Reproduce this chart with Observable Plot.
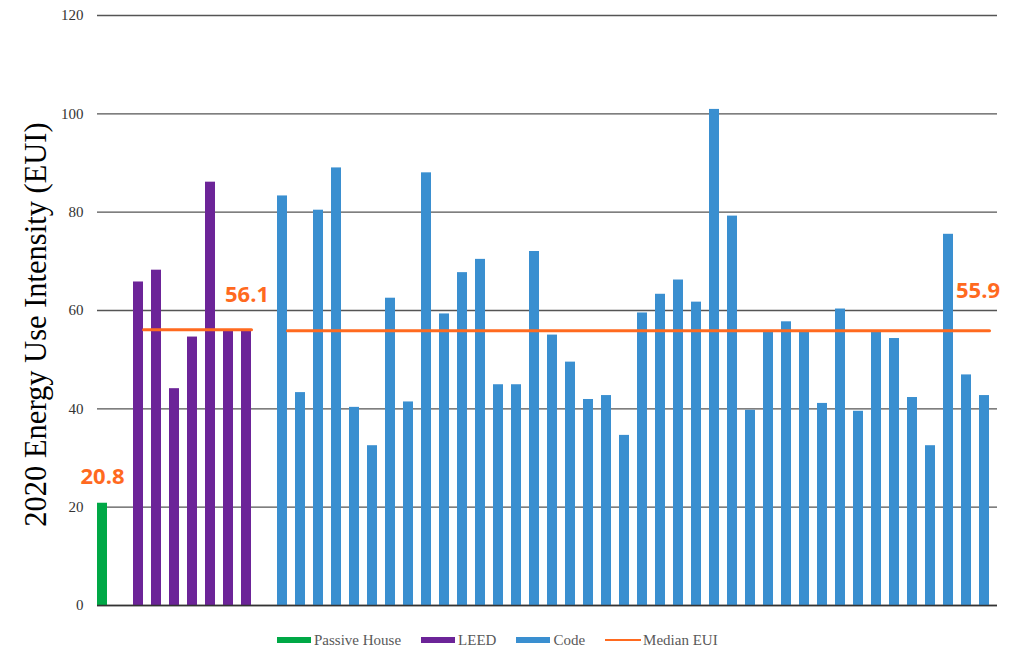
<!DOCTYPE html>
<html>
<head>
<meta charset="utf-8">
<script src="https://cdn.jsdelivr.net/npm/d3@7"></script>
<script src="https://cdn.jsdelivr.net/npm/@observablehq/plot@0.6"></script>
<style>
  body { margin: 0; background: #fff; }
  #wrap { width: 1012px; height: 660px; position: relative; overflow: hidden; }
  #legend { display: flex; align-items: center; margin-left: 277px; height: 30px; margin-top: 0px;
            font-family: "Liberation Serif", "Times New Roman", serif; font-size: 15px; color: #595959; }
  .item { display: flex; align-items: center; margin-right: 20px; }
  .sw { width: 34px; height: 6px; margin-right: 3px; }
  .ln { width: 36px; height: 2px; margin-right: 2px; }
</style>
</head>
<body>
<div id="wrap"></div>
<script>
// ---- data ----
const types = ["Passive House", "LEED", "Code"];
const colors = ["#00A846", "#6C2498", "#3A8FD0"];
const medianColor = "#FF6A1F";

const passiveValues = [20.8];
const leedValues = [65.8, 68.2, 44.1, 54.6, 86.1, 55.8, 56.1];
const codeValues = [
  83.3, 43.3, 80.4, 89.0, 40.3, 32.5, 62.5, 41.4, 88.0, 59.3,
  67.7, 70.4, 44.9, 44.9, 72.0, 55.0, 49.5, 41.9, 42.7, 34.6,
  59.5, 63.3, 66.2, 61.7, 100.9, 79.2, 39.7, 55.9, 57.7, 55.9,
  41.1, 60.3, 39.5, 55.9, 54.3, 42.3, 32.5, 75.5, 46.9, 42.7
];
const passiveLabel = 20.8;
const leedMedian = 56.1;
const codeMedian = 55.9;
const yTicks = [0, 20, 40, 60, 80, 100, 120];
const yTitle = "2020 Energy Use Intensity (EUI)";

// ---- build table ----
const passiveSlots = passiveValues.map((v, i) => "P" + (i + 1));
const leedSlots = leedValues.map((v, i) => "L" + (i + 1));
const codeSlots = codeValues.map((v, i) => "C" + (i + 1));
const slots = [...passiveSlots, "gap1", ...leedSlots, "gap2", ...codeSlots];

const rows = [
  ...passiveValues.map((v, i) => ({slot: passiveSlots[i], value: v, type: types[0]})),
  ...leedValues.map((v, i) => ({slot: leedSlots[i], value: v, type: types[1]})),
  ...codeValues.map((v, i) => ({slot: codeSlots[i], value: v, type: types[2]}))
];
const medianRows = [
  ...leedSlots.map(s => ({slot: s, y: leedMedian, g: "LEED"})),
  ...codeSlots.map(s => ({slot: s, y: codeMedian, g: "Code"}))
];
const labels = [
  {slot: passiveSlots[0], y: passiveLabel, text: passiveLabel.toFixed(1), dx: 0, dy: -26},
  {slot: leedSlots[leedSlots.length - 1], y: leedMedian, text: leedMedian.toFixed(1), dx: 0.5, dy: -35},
  {slot: codeSlots[codeSlots.length - 1], y: codeMedian, text: codeMedian.toFixed(1), dx: -6.5, dy: -40}
];

const serif = "'Liberation Serif', 'Times New Roman', serif";

const chart = Plot.plot({
  width: 1012,
  height: 625,
  marginLeft: 97,
  marginRight: 15,
  marginTop: 15,
  marginBottom: 20,
  x: {type: "band", domain: slots, range: [93, 993], paddingInner: 0.42, paddingOuter: 0.21, axis: null},
  y: {domain: [0, 120], axis: null},
  color: {domain: types, range: colors},
  marks: [
    Plot.gridY(yTicks, {stroke: "#555", strokeOpacity: 1, strokeWidth: 1.4}),
    Plot.axisY(yTicks, {tickSize: 0, tickPadding: 14, fontSize: 15, fontFamily: serif, fill: "#333", tickFormat: d => d}),
    Plot.barY(rows, {x: "slot", y: "value", fill: "type"}),
    Plot.ruleY([0], {stroke: "#333", strokeWidth: 1.6}),
    Plot.line(medianRows, {x: "slot", y: "y", z: "g", stroke: medianColor, strokeWidth: 3, dx: 5}),
    ...labels.map(l => Plot.text([l], {x: "slot", y: "y", text: "text", dx: l.dx, dy: l.dy,
        fill: medianColor, fontSize: 22, fontWeight: "bold", fontFamily: "'Open Sans', sans-serif"})),
    Plot.text([yTitle], {frameAnchor: "left", textAnchor: "middle", rotate: -90, dx: -61, dy: 14, fontSize: 30.5, fontFamily: serif, fill: "#000"})
  ]
});

const wrap = document.getElementById("wrap");
wrap.appendChild(chart);

const legend = document.createElement("div");
legend.id = "legend";
types.forEach((t, i) => {
  const it = document.createElement("div");
  it.className = "item";
  it.innerHTML = `<div class="sw" style="background:${colors[i]}"></div><span>${t}</span>`;
  legend.appendChild(it);
});
const mi = document.createElement("div");
mi.className = "item";
mi.innerHTML = `<div class="ln" style="background:${medianColor}"></div><span>Median EUI</span>`;
legend.appendChild(mi);
wrap.appendChild(legend);
</script>
</body>
</html>
